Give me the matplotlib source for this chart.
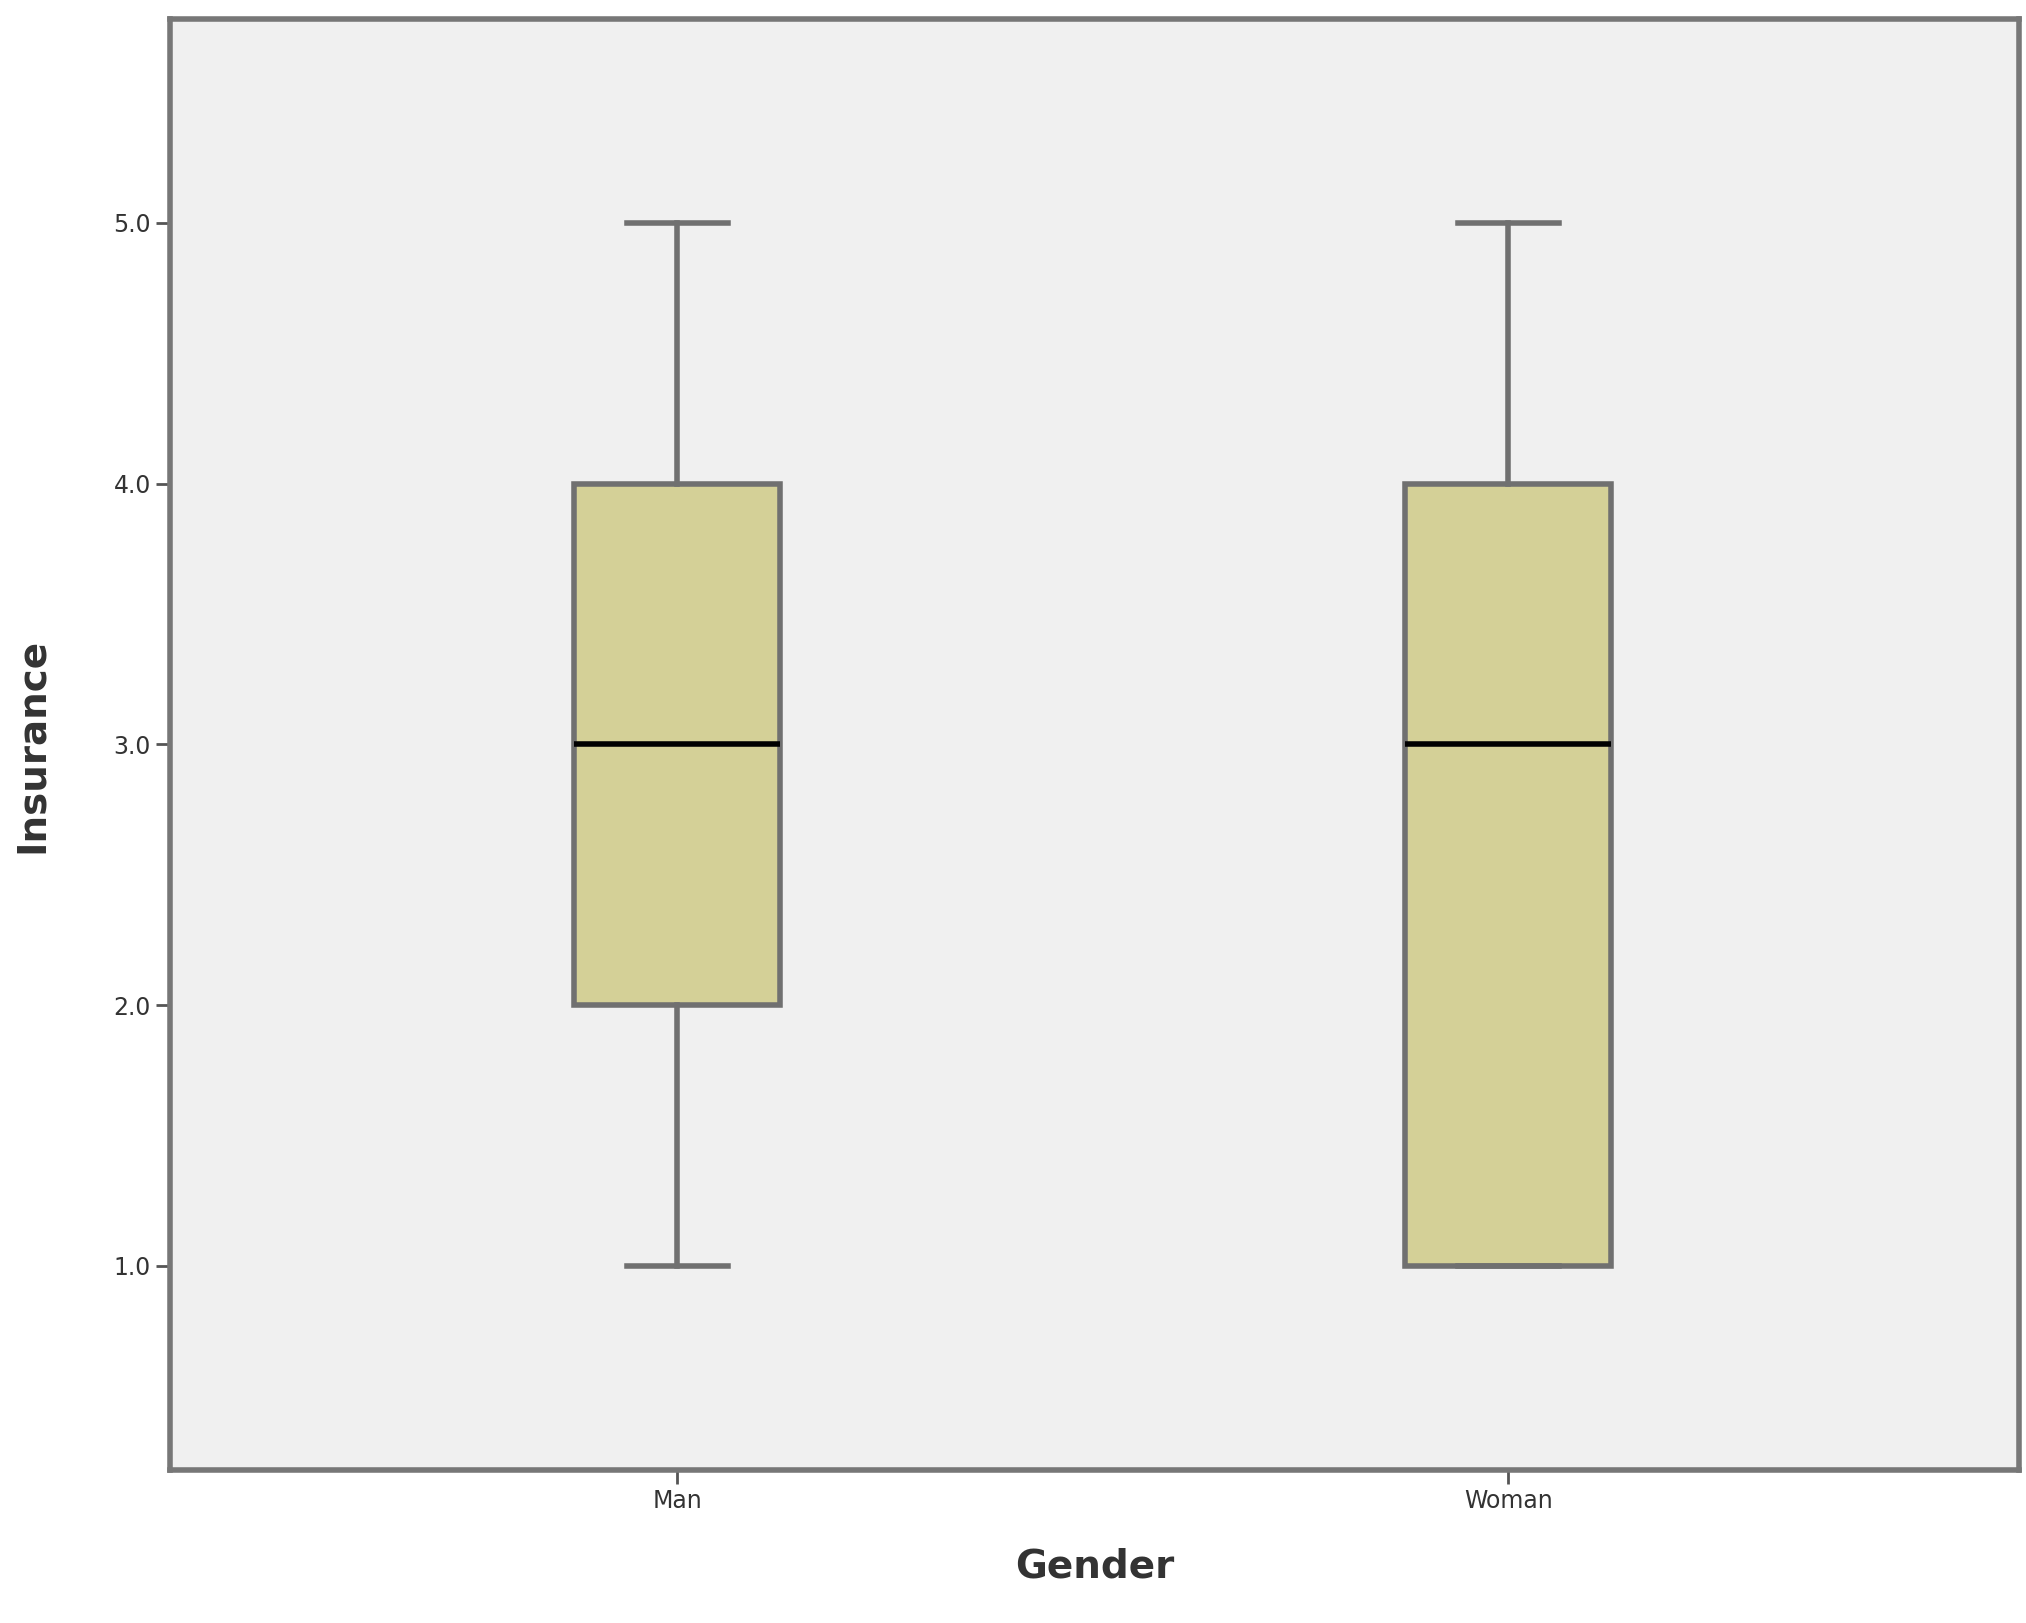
import matplotlib
matplotlib.use("Agg")
import matplotlib.pyplot as plt

categories = ["Man", "Woman"]
whislo = [1.0, 1.0]
q1 = [2.0, 1.0]
med = [3.0, 3.0]
q3 = [4.0, 4.0]
whishi = [5.0, 5.0]
yticks = [1.0, 2.0, 3.0, 4.0, 5.0]

fig = plt.figure(figsize=(20.26, 16.23), dpi=100)
ax = fig.add_axes([0.0837, 0.094, 0.913, 0.894])
ax.set_facecolor("#f0f0f0")
stats = [dict(label=c, whislo=a, q1=b, med=m, q3=d, whishi=e, fliers=[])
         for c, a, b, m, d, e in zip(categories, whislo, q1, med, q3, whishi)]
ax.bxp(stats, positions=[1, 2], widths=0.248, patch_artist=True, showfliers=False,
       boxprops=dict(facecolor="#d4d097", edgecolor="#707070", linewidth=4),
       whiskerprops=dict(color="#707070", linewidth=4),
       capprops=dict(color="#707070", linewidth=4),
       capwidths=0.122,
       medianprops=dict(color="black", linewidth=4))
ax.set_xlim(0.389, 2.615)
ax.set_ylim(0.215, 5.78)
ax.set_yticks(yticks)
ax.set_yticklabels([f"{v:.1f}" for v in yticks], fontsize=17, color="#333333")
ax.set_xticks([1, 2])
ax.set_xticklabels(categories, fontsize=17, color="#333333")
ax.tick_params(length=10, width=2, color="#555555")
for s in ax.spines.values():
    s.set_color("#777777"); s.set_linewidth(4)
ax.set_xlabel("Gender", fontsize=28, fontweight="bold", color="#333333", labelpad=25)
ax.set_ylabel("Insurance", fontsize=28, fontweight="bold", color="#333333", labelpad=45)
fig.savefig("out.png", dpi=100)
